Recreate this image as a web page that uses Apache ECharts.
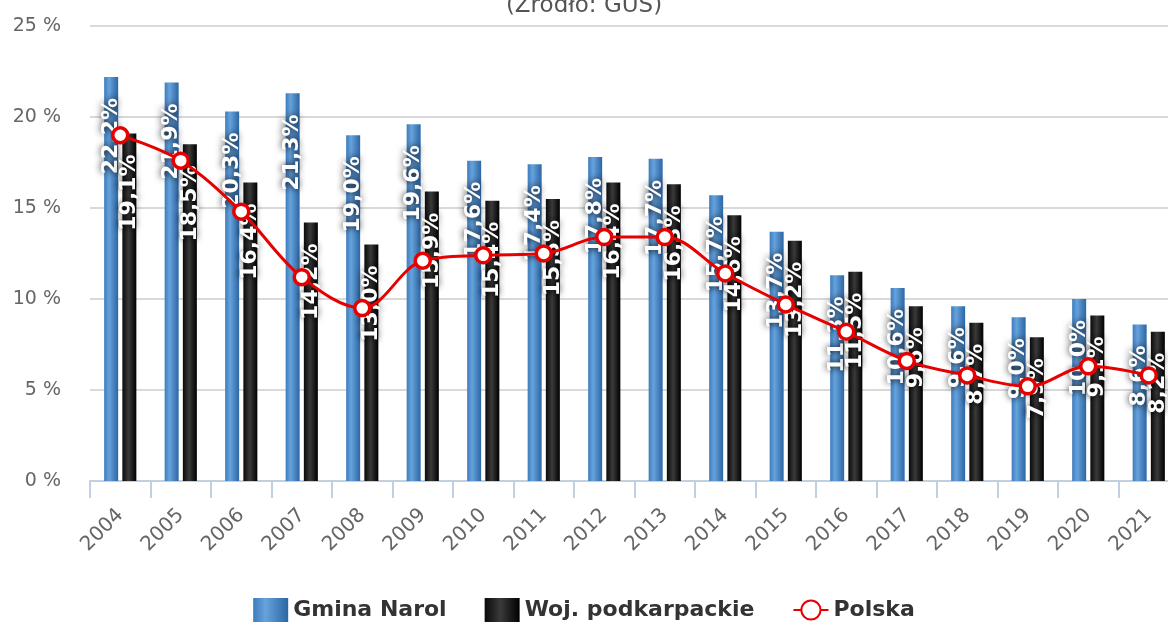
<!DOCTYPE html>
<html>
<head>
<meta charset="utf-8">
<title>Stopa bezrobocia</title>
<script src="https://cdn.jsdelivr.net/npm/echarts@6/dist/echarts.min.js"></script>
<style>
  html, body { margin: 0; padding: 0; background: #fff; }
  #chart { width: 1168px; height: 624px; }
</style>
</head>
<body>
<div id="chart"></div>
<script>
var years = ['2004', '2005', '2006', '2007', '2008', '2009', '2010', '2011', '2012',
  '2013', '2014', '2015', '2016', '2017', '2018', '2019', '2020', '2021'];
var gminaNarol = [22.2, 21.9, 20.3, 21.3, 19.0, 19.6, 17.6, 17.4, 17.8, 17.7, 15.7, 13.7, 11.3, 10.6, 9.6, 9.0, 10.0, 8.6];
var podkarpackie = [19.1, 18.5, 16.4, 14.2, 13.0, 15.9, 15.4, 15.5, 16.4, 16.3, 14.6, 13.2, 11.5, 9.6, 8.7, 7.9, 9.1, 8.2];
var polska = [19.0, 17.6, 14.8, 11.2, 9.5, 12.1, 12.4, 12.5, 13.4, 13.4, 11.4, 9.7, 8.2, 6.6, 5.8, 5.2, 6.3, 5.8];
var yTicks = { min: 0, max: 25, step: 5 };

var FONT = '"DejaVu Sans", "Noto Sans", sans-serif';

var chart = echarts.init(document.getElementById('chart'));

// etykiety słupków: obrócone, białe z ciemną poświatą
function barLabel() {
  return {
    show: true,
    position: 'insideTop',
    distance: 21,
    rotate: 90,
    align: 'right',
    verticalAlign: 'middle',
    color: '#fff',
    fontFamily: FONT,
    fontWeight: 'bold',
    fontSize: 22,
    textShadowColor: 'rgba(0,0,0,0.95)',
    textShadowBlur: 7,
    formatter: function (p) {
      return p.value.toFixed(1).replace('.', ',') + '%';
    }
  };
}

var blueFill = new echarts.graphic.LinearGradient(0, 0, 1, 0, [
  { offset: 0, color: '#3d7cbd' },
  { offset: 0.35, color: '#66a2dc' },
  { offset: 1, color: '#2c66a3' }
]);
var blackFill = new echarts.graphic.LinearGradient(0, 0, 1, 0, [
  { offset: 0, color: '#0a0a0a' },
  { offset: 0.45, color: '#3a3a3a' },
  { offset: 1, color: '#000' }
]);

var option = {
  animation: false,
  title: {
    text: '(Źródło: GUS)',
    left: 'center',
    top: -10,
    textStyle: { color: '#555', fontFamily: FONT, fontWeight: 'normal', fontSize: 23 }
  },
  legend: {
    bottom: -3,
    itemWidth: 35,
    itemHeight: 24,
    itemGap: 38,
    textStyle: { color: '#333', fontFamily: FONT, fontWeight: 'bold', fontSize: 22 },
    data: [
      { name: 'Gmina Narol', icon: 'rect' },
      { name: 'Woj. podkarpackie', icon: 'rect' },
      { name: 'Polska' }
    ]
  },
  grid: {
    left: 90,
    top: 26,
    bottom: 143,
    width: 1089,
    containLabel: false,
    outerBoundsMode: 'none'
  },
  xAxis: {
    type: 'category',
    data: years,
    axisLine: { lineStyle: { color: '#c0d0e0', width: 2 } },
    axisTick: { show: true, length: 17, lineStyle: { color: '#c0d0e0', width: 2 } },
    axisLabel: {
      rotate: 45,
      margin: 31,
      color: '#666',
      fontFamily: FONT,
      fontSize: 20
    }
  },
  yAxis: {
    type: 'value',
    min: yTicks.min,
    max: yTicks.max,
    interval: yTicks.step,
    axisLine: { show: false },
    axisTick: { show: false },
    axisLabel: {
      margin: 29,
      color: '#666',
      fontFamily: FONT,
      fontSize: 19,
      formatter: '{value} %'
    },
    splitLine: { lineStyle: { color: '#d9d9d9', width: 2 } }
  },
  series: [
    {
      name: 'Gmina Narol',
      type: 'bar',
      barWidth: 14,
      barGap: '30%',
      itemStyle: { color: blueFill },
      label: barLabel(),
      data: gminaNarol
    },
    {
      name: 'Woj. podkarpackie',
      type: 'bar',
      barWidth: 14,
      barGap: '30%',
      itemStyle: { color: blackFill },
      label: barLabel(),
      data: podkarpackie
    },
    {
      name: 'Polska',
      type: 'line',
      smooth: 0.35,
      symbol: 'circle',
      symbolSize: 15,
      z: 3,
      lineStyle: { color: '#e60000', width: 3 },
      itemStyle: { color: '#fff', borderColor: '#e60000', borderWidth: 3.5 },
      data: polska
    }
  ]
};

chart.setOption(option);
</script>
</body>
</html>
